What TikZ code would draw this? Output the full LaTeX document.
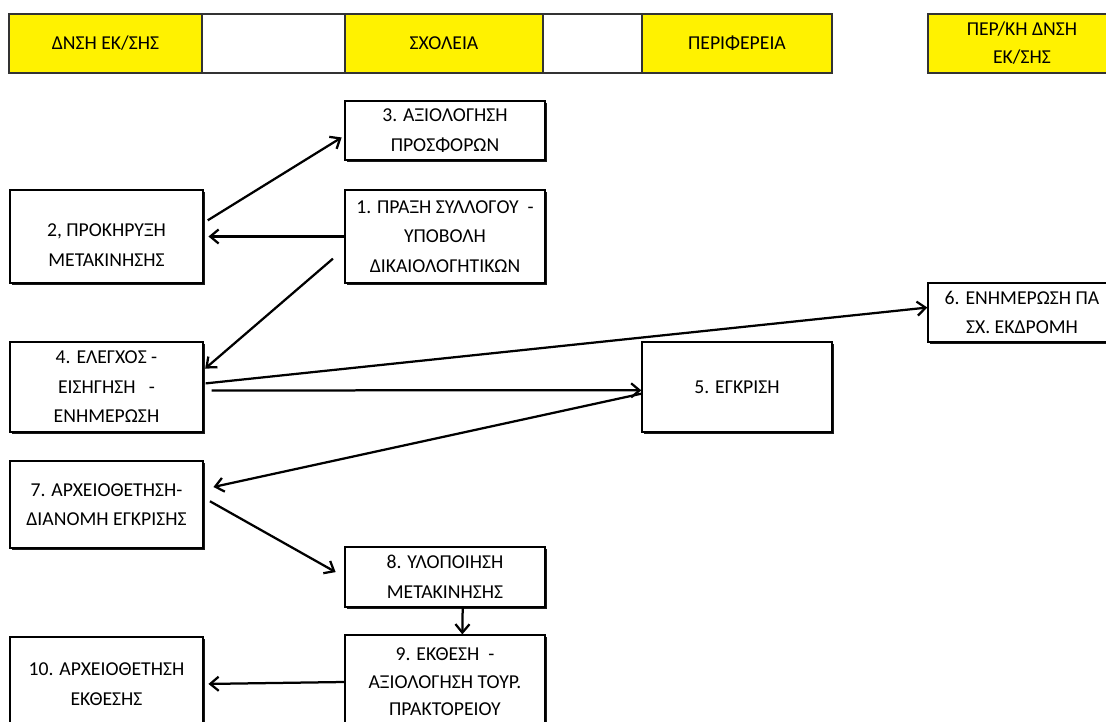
\documentclass[tikz,border=0pt]{standalone}
\usepackage{fontspec}
\setmainfont{Carlito}
\usepackage{tikz}
\usetikzlibrary{arrows.meta, shadows}

\begin{document}
\begin{tikzpicture}[
      x=0.025cm, y=-0.025cm,
      % Define compact styles
      header/.style={rectangle, draw=black!80, line width=1pt, fill=yellow, minimum height=1.475cm, align=center, font=\fontsize{14pt}{20pt}\selectfont},
      blank/.style={header, fill=white},
      stage/.style={rectangle, draw, line width=0.9pt, fill=white, align=center, font=\fontsize{14pt}{21pt}\selectfont, drop shadow={shadow xshift=1.5pt, shadow yshift=-1.5pt, fill=black, opacity=0.9}},
      arrow/.style={-{Straight Barb[length=6pt, width=10pt]}, line width=1.6pt}
    ]
    \useasboundingbox (0,0) rectangle (1106,722);
    \clip (0,0) rectangle (1106,722);

    % Header row
    \node[header, minimum width=4.825cm] (hdin) at (105.5,43.5) {ΔΝΣΗ ΕΚ/ΣΗΣ};
    \node[blank, minimum width=3.575cm] (hdgapa) at (273.5,43.5) {};
    \node[header, minimum width=4.95cm] (hdsch) at (444,43.5) {ΣΧΟΛΕΙΑ};
    \node[blank, minimum width=2.475cm] (hdgapb) at (592.5,43.5) {};
    \node[header, minimum width=4.75cm] (hdper) at (737,43.5) {ΠΕΡΙΦΕΡΕΙΑ};
    \node[header, minimum width=4.7cm] (hdpdn) at (1022,43.5) {ΠΕΡ/ΚΗ ΔΝΣΗ\\ΕΚ/ΣΗΣ};

    % Left column - directorate
    \node[stage, minimum width=4.825cm, minimum height=2.325cm] (prok) at (106.5,236.5) {\mbox{}\\2, ΠΡΟΚΗΡΥΞΗ\\ΜΕΤΑΚΙΝΗΣΗΣ};
    \node[stage, minimum width=4.825cm, minimum height=2.25cm] (eleg) at (106.5,387) {4. ΕΛΕΓΧΟΣ -\\ΕΙΣΗΓΗΣΗ \ \ -\\ΕΝΗΜΕΡΩΣΗ};
    \node[stage, minimum width=4.825cm, minimum height=2.175cm] (arxa) at (106.5,504.5) {7. ΑΡΧΕΙΟΘΕΤΗΣΗ-\\ΔΙΑΝΟΜΗ ΕΓΚΡΙΣΗΣ};
    \node[stage, minimum width=4.825cm, minimum height=2.35cm] (arxb) at (106.5,684) {10. ΑΡΧΕΙΟΘΕΤΗΣΗ\\ΕΚΘΕΣΗΣ};

    % Middle column - schools
    \node[stage, minimum width=5cm, minimum height=1.475cm] (axio) at (445,130.5) {3. ΑΞΙΟΛΟΓΗΣΗ\\ΠΡΟΣΦΟΡΩΝ};
    \node[stage, minimum width=5cm, minimum height=2.325cm] (prax) at (445,236.5) {1. ΠΡΑΞΗ ΣΥΛΛΟΓΟΥ \ -\\ΥΠΟΒΟΛΗ\\ΔΙΚΑΙΟΛΟΓΗΤΙΚΩΝ};
    \node[stage, minimum width=5cm, minimum height=1.5cm] (ylop) at (445,577) {8. ΥΛΟΠΟΙΗΣΗ\\ΜΕΤΑΚΙΝΗΣΗΣ};
    \node[stage, minimum width=5cm, minimum height=2.35cm, font=\fontsize{14pt}{19.5pt}\selectfont] (ekth) at (445,682) {9. ΕΚΘΕΣΗ \ -\\ΑΞΙΟΛΟΓΗΣΗ ΤΟΥΡ.\\ΠΡΑΚΤΟΡΕΙΟΥ};

    % Right columns - region
    \node[stage, minimum width=4.75cm, minimum height=2.25cm] (egkr) at (737,387) {5. ΕΓΚΡΙΣΗ};
    \node[stage, minimum width=4.7cm, minimum height=1.475cm] (enim) at (1022,312.5) {6. ΕΝΗΜΕΡΩΣΗ ΠΑ\\ΣΧ. ΕΚΔΡΟΜΗ};

    % Arrows
    \draw[arrow, shorten >=0.12cm] (prax.west) -- (prok.east);
    \draw[arrow, shorten <=0.12cm, shorten >=0.08cm] (prok.8) -- (axio.183);
    \draw[arrow, shorten <=0.375cm, shorten >=0.05cm] (prax.187) -- (eleg.10);
    \draw[arrow, shorten <=0.05cm] (eleg.2) -- (enim.177);
    \draw[arrow, shorten <=0.2cm] (eleg.-2) -- (egkr.182);
    \draw[arrow, shorten >=0.25cm] (egkr.184) -- (arxa.9);
    \draw[arrow, shorten <=0.18cm, shorten >=0.25cm] (arxa.4) -- (ylop.west);
    \draw[arrow] (ylop.-60) -- (ekth.70);
    \draw[arrow, shorten >=0.12cm] (ekth.west) -- (arxb.east);

  \end{tikzpicture}
\end{document}
